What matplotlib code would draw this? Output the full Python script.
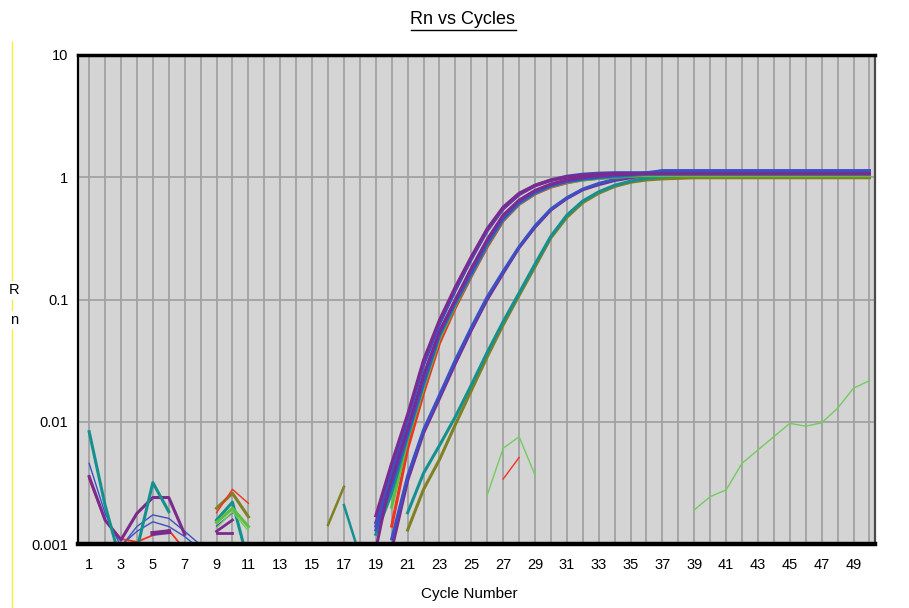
import numpy as np
import matplotlib
matplotlib.use('Agg')
import matplotlib.pyplot as plt
from matplotlib.lines import Line2D
from matplotlib.ticker import NullLocator

nan = np.nan

# amplification curves, cycles 19..50
amp_cycles = np.arange(19, 51)
purple_a = [0.0017, 0.0046, 0.0115, 0.032, 0.068, 0.127, 0.224, 0.38, 0.57, 0.74, 0.86, 0.95, 1.01, 1.04, 1.06] + [1.07] * 17
blue_a = [0.0014, 0.0040, 0.0105, 0.029, 0.063, 0.12, 0.215, 0.37, 0.56, 0.73, 0.86, 0.95, 1.02, 1.06, 1.08, 1.09, 1.09, 1.09] + [1.13] * 14
purple_a2 = [0.0009, 0.0038, 0.0108, 0.030, 0.064, 0.12, 0.215, 0.365, 0.55, 0.72, 0.85, 0.94, 1.0, 1.04, 1.06] + [1.07] * 17
green_b = [nan, 0.0020, 0.0072, 0.019, 0.048, 0.090, 0.16, 0.28, 0.45, 0.61, 0.74, 0.84, 0.91, 0.95, 0.98, 1.0, 1.02] + [1.03] * 15
red_b = [nan, 0.0014, 0.0060, 0.0172, 0.044, 0.086, 0.155, 0.27, 0.44, 0.60, 0.73, 0.83, 0.90, 0.95, 0.98, 1.0, 1.02] + [1.04] * 15
blue_b = [0.0013, 0.0030, 0.0080, 0.021, 0.052, 0.095, 0.165, 0.29, 0.46, 0.62, 0.75, 0.85, 0.92, 0.97, 1.0, 1.03, 1.05] + [1.09] * 15
teal_b = [0.0012, 0.0026, 0.0075, 0.020, 0.050, 0.092, 0.16, 0.28, 0.45, 0.61, 0.74, 0.85, 0.92, 0.96, 0.99, 1.01, 1.03] + [1.06] * 15
purple_b = [0.0015, 0.0034, 0.0088, 0.024, 0.055, 0.10, 0.18, 0.31, 0.49, 0.65, 0.78, 0.88, 0.95, 1.0, 1.03, 1.05] + [1.07] * 16
purple_c = [nan, 0.0009, 0.0033, 0.0081, 0.0155, 0.030, 0.056, 0.10, 0.164, 0.265, 0.39, 0.54, 0.67, 0.79, 0.87, 0.94, 0.99, 1.03, 1.05] + [1.07] * 13
blue_c = [nan, 0.0011, 0.0036, 0.0086, 0.0165, 0.032, 0.059, 0.105, 0.17, 0.27, 0.40, 0.55, 0.68, 0.80, 0.89, 0.96, 1.02, 1.06] + [1.13] * 14
teal_d = [nan, nan, 0.0018, 0.0038, 0.0064, 0.011, 0.020, 0.037, 0.066, 0.113, 0.195, 0.33, 0.49, 0.64, 0.76, 0.86, 0.93, 0.98, 1.01, 1.03] + [1.05] * 12
olive_d = [nan, nan, 0.0013, 0.0028, 0.0049, 0.0095, 0.018, 0.034, 0.062, 0.108, 0.185, 0.32, 0.47, 0.62, 0.74, 0.84, 0.91, 0.95, 0.97, 0.98] + [0.99] * 12

# baseline noise, cycles 1..8
early_cycles = np.arange(1, 9)
teal_early = [0.0083, 0.00208, 0.0007, 0.0009, 0.00318, 0.00184, nan, nan]
purple_early = [0.00356, 0.00157, 0.00108, 0.00178, 0.0024, 0.0024, 0.0012, nan]
blue_early = [0.00457, 0.00178, 0.00095, 0.00139, 0.00173, 0.00162, 0.00127, 0.00098]
blue_early2 = [nan, nan, 0.00097, 0.00127, 0.00152, 0.00139, 0.00115, 0.0009]
red_early = [0.00339, 0.00157, 0.0011, 0.00104, 0.00118, 0.0013, 0.0009, nan]
purple_short = [nan, nan, nan, nan, 0.00122, 0.00126, nan, nan]

# baseline noise, cycles 9..11
mid_cycles = [9, 10, 11]
olive_mid = [0.00196, 0.0026, 0.00167]
red_mid = [0.0018, 0.0028, 0.00215]
teal_mid = [0.00157, 0.0022, 0.0007]
green_mid = [0.0015, 0.00196, 0.00139]
lgreen_mid = [0.00135, 0.00184, 0.00128]
blue_mid = [0.0014, 0.0018, nan]
purple_mid = [0.00127, 0.00157, nan]
purple_flat = [0.00122, 0.00122, nan]

# stray wells
olive_blip = ([16, 17], [0.00143, 0.00294])
teal_blip = ([17, 18], [0.00208, 0.0008])
green_blip = ([26, 27, 28, 29], [0.00252, 0.00607, 0.00755, 0.00366])
red_blip = ([27, 28], [0.0034, 0.0051])
late_cycles = np.arange(39, 51)
green_late = [0.0019, 0.00244, 0.00277, 0.00457, 0.00588, 0.00755, 0.0097, 0.0092, 0.0098, 0.0129, 0.0188, 0.0217]

x_ticks = list(range(1, 50, 2))
y_ticks = [0.001, 0.01, 0.1, 1, 10]
y_labels = ['0.001', '0.01', '0.1', '1', '10']

PURPLE = '#7b2a8e'
BLUE = '#3c50c4'
TEAL = '#14918f'
OLIVE = '#808024'
GREEN = '#5cbf3f'
RED = '#f0321e'
LGREEN = '#72cc5e'

plt.rcParams['font.family'] = ['Liberation Sans Narrow', 'Liberation Sans', 'DejaVu Sans']

fig = plt.figure(figsize=(9.09, 6.08), dpi=100)
ax = fig.add_axes([78 / 909, 1 - 544 / 608, 797 / 909, 489 / 608])
ax.set_facecolor('#d4d4d4')
ax.set_yscale('log')
ax.set_ylim(0.001, 10)
ax.set_xlim(0.3, 50.35)

thick = 2.2
thin = 1.0

# noise at the start of the run
ax.plot(early_cycles, blue_early, color=BLUE, lw=thin)
ax.plot(early_cycles, blue_early2, color=BLUE, lw=thin)
ax.plot(early_cycles, red_early, color=RED, lw=1.3)
ax.plot(early_cycles, purple_early, color=PURPLE, lw=thick)
ax.plot(early_cycles, purple_short, color=PURPLE, lw=3.5)
ax.plot(early_cycles, teal_early, color=TEAL, lw=thick)

for vals, col, lw in [(olive_mid, OLIVE, thick), (red_mid, RED, thin), (purple_flat, PURPLE, 2.0),
                      (purple_mid, PURPLE, 2.0), (blue_mid, BLUE, thin), (teal_mid, TEAL, thick),
                      (green_mid, GREEN, thick), (lgreen_mid, LGREEN, thin)]:
    ax.plot(mid_cycles, vals, color=col, lw=lw)

ax.plot(*olive_blip, color=OLIVE, lw=1.8)
ax.plot(*teal_blip, color=TEAL, lw=1.8)
ax.plot(*green_blip, color=LGREEN, lw=thin)
ax.plot(*red_blip, color=RED, lw=thin)
ax.plot(late_cycles, green_late, color=LGREEN, lw=thin)

# amplification curves
for vals, col in [(olive_d, OLIVE), (teal_d, TEAL), (purple_c, PURPLE), (blue_c, BLUE),
                  (red_b, RED), (green_b, GREEN), (teal_b, TEAL), (blue_b, BLUE),
                  (purple_b, PURPLE), (purple_a2, PURPLE), (blue_a, BLUE), (purple_a, PURPLE)]:
    ax.plot(amp_cycles, vals, color=col, lw=thick)

ax.set_xticks(x_ticks)
ax.set_xticks(range(1, 51), minor=True)
ax.set_yticks(y_ticks)
ax.set_yticklabels(y_labels)
ax.yaxis.set_minor_locator(NullLocator())
ax.tick_params(which='both', length=0, labelsize=10.5)
ax.tick_params(axis='x', pad=10)
ax.tick_params(axis='y', pad=7)
ax.grid(True, which='both', axis='x', color='#a2a2a2', lw=1.3)
ax.grid(True, which='major', axis='y', color='#a2a2a2', lw=1.3)
ax.set_axisbelow(True)

for side, lw, col in [('top', 2.5, 'black'), ('bottom', 3.2, 'black'),
                      ('left', 1.6, 'black'), ('right', 1.6, '#4a4a4a')]:
    ax.spines[side].set_linewidth(lw)
    ax.spines[side].set_color(col)

title = fig.text(463 / 909, 1 - 20 / 608, 'Rn vs Cycles', ha='center', va='center', fontsize=13)
fig.text(469 / 909, 1 - 594 / 608, 'Cycle Number', ha='center', va='center', fontsize=11)
fig.text(14 / 909, 1 - 290 / 608, 'R', ha='center', va='center', fontsize=10.5)
fig.text(14 / 909, 1 - 320 / 608, 'n', ha='center', va='center', fontsize=10.5)

# underline the title
fig.canvas.draw()
bb = title.get_window_extent().transformed(fig.transFigure.inverted())
fig.add_artist(Line2D([bb.x0, bb.x1], [bb.y0 - 0.002, bb.y0 - 0.002], color='black', lw=1.0,
                      transform=fig.transFigure))

# yellow rule down the left margin
for y0, y1 in [(42, 280), (300, 310), (330, 608)]:
    fig.add_artist(Line2D([12 / 909, 12 / 909], [1 - y0 / 608, 1 - y1 / 608], color='#f2ee3a', lw=1.0,
                          transform=fig.transFigure))

fig.savefig('out.png', dpi=100)
